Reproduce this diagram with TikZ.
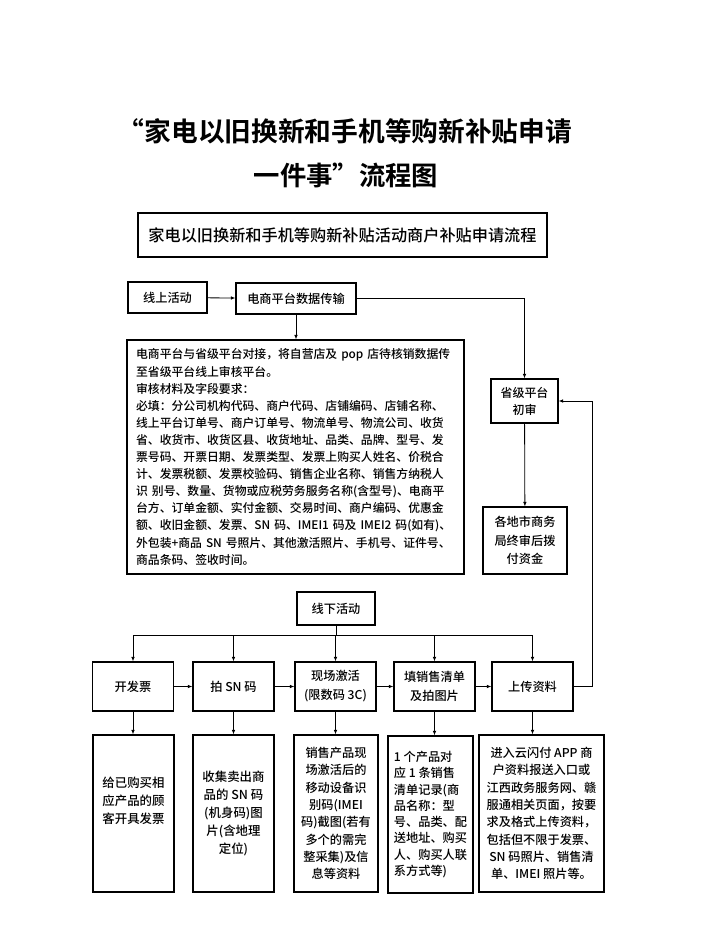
\documentclass[tikz,border=0pt]{standalone}
\usepackage{fontspec}
\setmainfont{Noto Sans CJK SC}[UprightFont=* Medium,BoldFont=* Bold]
\usetikzlibrary{arrows.meta}
\begin{document}
\begin{tikzpicture}[x=0.3mm,y=-0.3mm,>={Latex[length=1.4mm,width=1.1mm]},
  box/.style={draw=black,line width=0.9pt,inner sep=0pt,align=center,font=\fontsize{10.4}{15}\selectfont},
  rowbox/.style={box,minimum width=24.3mm,minimum height=14.7mm,font=\fontsize{10.4}{16.2}\selectfont},
  notebox/.style={box,minimum height=47.1mm},
  arr/.style={->,line width=0.7pt},
  ln/.style={line width=0.7pt}]
      \useasboundingbox (0,0) rectangle (711,946);
      \node[font=\fontsize{22.8}{27}\selectfont\bfseries] (title1) at (345,131) {“家电以旧换新和手机等购新补贴申请};
      \node[font=\fontsize{22.5}{27}\selectfont\bfseries] (title2) at (346,175) {一件事”流程图};
      \node[box,minimum width=122.7mm,minimum height=13.2mm,font=\fontsize{13.8}{16}\selectfont] (banner) at (342.5,235) {家电以旧换新和手机等购新补贴活动商户补贴申请流程};

      \node[box,minimum width=23.7mm,minimum height=9.3mm] (online) at (167.5,297.5) {线上活动};
      \node[box,minimum width=36mm,minimum height=9.3mm] (ecomdata) at (296,298.5) {电商平台数据传输};
      \node[box,align=left,text width=95.6mm,inner xsep=2.75mm,minimum height=70.2mm,font=\fontsize{10.1}{14.6}\selectfont] (rules) at (295.5,457) {电商平台与省级平台对接，将自营店及~pop~店待核销数据传\\
        至省级平台线上审核平台。\\
        审核材料及字段要求：\\
        必填：分公司机构代码、商户代码、店铺编码、店铺名称、\\
        线上平台订单号、商户订单号、物流单号、物流公司、收货\\
        省、收货市、收货区县、收货地址、品类、品牌、型号、发\\
        票号码、开票日期、发票类型、发票上购买人姓名、价税合\\
        计、发票税额、发票校验码、销售企业名称、销售方纳税人\\
        识~别号、数量、货物或应税劳务服务名称(含型号)、电商平\\
        台方、订单金额、实付金额、交易时间、商户编码、优惠金\\
        额、收旧金额、发票、SN~码、IMEI1~码及~IMEI2~码(如有)、\\
        外包装+商品~SN~号照片、其他激活照片、手机号、证件号、\\
        商品条码、签收时间。};
      \node[box,minimum width=20.1mm,minimum height=13.2mm,font=\fontsize{10.2}{14.6}\selectfont] (provcheck) at (524.5,401) {省级平台\\初审};
      \node[box,minimum width=25.2mm,minimum height=20.1mm,font=\fontsize{10.4}{15.6}\selectfont] (cityfund) at (525,540.5) {各地市商务\\局终审后拨\\付资金};

      \node[box,minimum width=23.4mm,minimum height=9.9mm] (offline) at (336,608.5) {线下活动};
      \node[rowbox] (invoice) at (133,686.5) {开发票};
      \node[rowbox] (snphoto) at (233.5,686.5) {拍~SN~码};
      \node[rowbox] (activate) at (335.5,686.5) {现场激活\\(限数码~3C)};
      \node[rowbox] (saleslist) at (434.5,686.5) {填销售清单\\及拍图片};
      \node[rowbox] (upload) at (532.5,686.5) {上传资料};

      \node[notebox,minimum width=24.3mm,font=\fontsize{10.6}{15.4}\selectfont] (invoicetxt) at (133.5,813.5) {给已购买相\\应产品的顾\\客开具发票\\[8pt]};
      \node[notebox,minimum width=24.3mm,font=\fontsize{10.6}{15.4}\selectfont] (sntxt) at (233.5,813.5) {收集卖出商\\品的~SN~码\\(机身码)图\\片(含地理\\定位)};
      \node[notebox,minimum width=25.2mm,font=\fontsize{10.4}{14.8}\selectfont] (activatetxt) at (336,813.5) {销售产品现\\场激活后的\\移动设备识\\别码(IMEI\\码)截图(若有\\多个的需完\\整采集)及信\\息等资料};
      \node[notebox,minimum width=25.5mm,align=left,font=\fontsize{10.4}{13.9}\selectfont] (salestxt) at (430.5,814.5) {1~个产品对\\应~1~条销售\\清单记录(商\\品名称：型\\号、品类、配\\送地址、购买\\人、购买人联\\系方式等)};
      \node[notebox,minimum width=37.5mm,font=\fontsize{10.4}{14.8}\selectfont] (uploadtxt) at (541.5,813.5) {进入云闪付~APP~商\\户资料报送入口或\\江西政务服务网、赣\\服通相关页面，按要\\求及格式上传资料，\\包括但不限于发票、\\SN~码照片、销售清\\单、IMEI~照片等。};

      \draw[arr] (online) -- (ecomdata);
      \draw[arr] (ecomdata) -- (ecomdata |- rules.north);
      \draw[arr] (ecomdata.east) -| (provcheck.north);
      \draw[arr] (provcheck) -- (cityfund);

      \draw[ln] (offline.south) -- ++(0,10) coordinate (bus);
      \draw[ln] (invoice.north |- bus) -- (upload.north |- bus);
      \foreach \b in {invoice,snphoto,activate,saleslist,upload} {
        \draw[arr] (\b.north |- bus) -- (\b.north);
      }
      \foreach \a/\b in {invoice/snphoto,snphoto/activate,activate/saleslist,saleslist/upload} {
        \draw[arr] (\a) -- (\b);
      }
      \foreach \a/\b in {invoice/invoicetxt,snphoto/sntxt,activate/activatetxt,saleslist/salestxt,upload/uploadtxt} {
        \draw[arr] (\a.south) -- (\a.south |- \b.north);
      }
      \draw[arr] (upload.east) -- ++(19,0) |- (provcheck.east);
\end{tikzpicture}
\end{document}
